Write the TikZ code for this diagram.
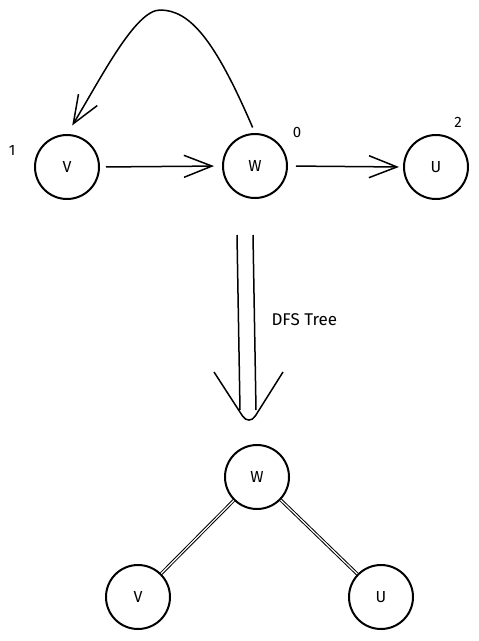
\documentclass[tikz,border=0pt]{standalone}
\usepackage{fontspec}
\setmainfont{Fira Sans}
\usetikzlibrary{positioning,calc,arrows.meta}

\begin{document}
\begin{tikzpicture}[x=1pt,y=-1pt,
		vtx/.style={circle,draw=black,line width=2pt,minimum size=64pt,inner sep=0pt,font=\fontsize{16}{16}\selectfont},
		num/.style={font=\fontsize{15}{15}\selectfont},
		arr/.style={line width=1.5pt,-{Straight Barb[length=28pt,width=22pt,line width=1.5pt]}},
		tedge/.style={double=white,double distance=1.2pt,line width=1pt}]
		\useasboundingbox (0,0) rectangle (479,641);
		% graph
		\node[vtx] (v) at (67,167) {V};
		\node[vtx] (w) at (255,166) {W};
		\node[vtx] (u) at (436,167) {U};
		\node[num] (nv) at (12,150) {1};
		\node[num] (nw) at (297,132) {0};
		\node[num] (nu) at (458,122) {2};
		\coordinate (top) at (160,10);
		\draw[arr,shorten <=6pt,shorten >=10pt] (w.north) .. controls (215,40) and (190,10) .. (top) .. controls (135,10) and (100,80) .. (v.north);
		\draw[arr,shorten <=6pt,shorten >=8pt] (v.east) -- (w.west);
		\draw[arr,shorten <=8pt,shorten >=4pt] (w.east) -- (u.west);
		% dfs tree arrow
		\coordinate (t1) at (237,235);
		\coordinate (t2) at (253,235);
		\coordinate (b1) at (240,410);
		\coordinate (b2) at (256,410);
		\draw[line width=1.5pt] (t1) -- (b1);
		\draw[line width=1.5pt] (t2) -- (b2);
		\draw[line width=1.5pt,rounded corners=12pt] (214,372) -- (249,426) -- (283,372);
		\node[font=\fontsize{17}{17}\selectfont,anchor=west] (lbl) at (268,320) {DFS Tree};
		% tree
		\node[vtx] (tw) at (257,477) {W};
		\node[vtx] (tv) at (138,597) {V};
		\node[vtx] (tu) at (381,597) {U};
		\draw[tedge] (tw) -- (tv);
		\draw[tedge] (tw) -- (tu);
	\end{tikzpicture}
\end{document}
